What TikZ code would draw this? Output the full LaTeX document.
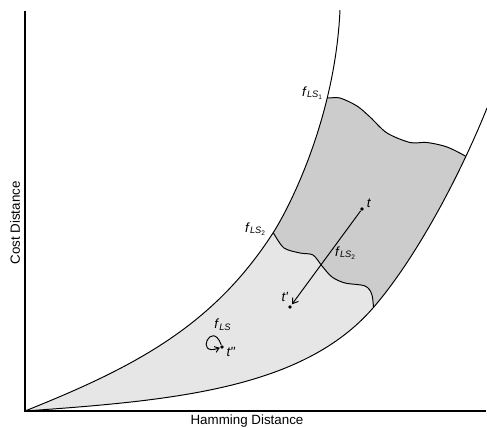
\documentclass[tikz,border=0pt]{standalone}
\usepackage{fontspec}
\setmainfont{Liberation Sans}
\usepackage{tikz}
\usetikzlibrary{arrows.meta,positioning}
\definecolor{PaleGray}{HTML}{E6E6E6}
\definecolor{MidGray}{HTML}{CCCCCC}
\newcommand{\fls}[1]{\textit{f}\textsubscript{\textit{LS}\textsubscript{#1}}}
% the two bounding curves and the two level lines
\newcommand{\outerline}{(25,411) .. controls (135,367) and (213,326) .. (273,233)
  .. controls (288,209.75) and (335,120) .. (340,10)}
\newcommand{\innerline}{(25,411) .. controls (175,400.5) and (303,388.5) .. (373,308)
  .. controls (418,256) and (462,170.5) .. (487,108)}
\newcommand{\topwave}{plot[smooth] coordinates {(318,97) (328,98) (340,98) (357,106) (370,117) (387,133) (410,142.5) (427,142.5) (447,147) (467,157) (478,165)}}
\newcommand{\lowwave}{plot[smooth] coordinates {(270,227) (274,234) (284,248) (300,253) (313,255) (322,266) (332,277) (345,283) (365,286) (372,295) (374,316)}}
\tikzset{
  axis/.style={line width=0.7pt},
  curve/.style={line width=0.55pt},
  dot/.style={circle,fill=black,inner sep=0pt,minimum size=2.2pt},
  lbl/.style={inner sep=0pt,font=\fontsize{7.6}{9}\selectfont},
  flow/.style={-{Straight Barb[length=3pt,width=4pt]},line width=0.55pt,shorten >=0.6pt},
  loopflow/.style={-{Straight Barb[length=2.4pt,width=3.4pt]},line width=0.55pt}
}
\begin{document}
\begin{tikzpicture}[x=0.02cm,y=-0.02cm]
  \useasboundingbox (0,0) rectangle (487,428);
  % shaded regions between the curves
  \begin{scope}
    \clip \outerline -- (487,0) -- (487,428) -- (25,428) -- cycle;
    \clip \innerline -- (487,0) -- (0,0) -- (0,411) -- cycle;
    \fill[MidGray] \topwave -- (487,428) -- (0,428) -- (0,97) -- cycle;
    \fill[PaleGray] \lowwave -- (380,428) -- (0,428) -- (0,227) -- cycle;
    \draw[curve] \topwave;
    \draw[curve] \lowwave;
  \end{scope}
  \draw[curve] \outerline;
  \draw[curve] \innerline;

  % axes
  \coordinate (ytop) at (25,11);
  \coordinate (orig) at (25,411);
  \coordinate (xend) at (486,411);
  \draw[axis] (ytop) -- (orig) -- (xend);
  \node[lbl,rotate=90] (ylab) at (15,223) {Cost Distance};
  \node[lbl] (xlab) at (247,421) {Hamming Distance};

  % states and moves
  \node[dot] (t) at (362,209) {};
  \node[dot] (t1) at (290,307) {};
  \node[dot] (t2) at (222,347) {};
  \node[lbl] (tlab) at (369,203) {\textit{t}};
  \node[lbl] (t1lab) at (285,297) {\textit{t\textquotesingle}};
  \node[lbl] (t2lab) at (231,352) {\textit{t\textquotedbl}};
  \draw[flow] (t) -- (t1);
  \draw[loopflow] (t2) to[out=110,in=200,min distance=0.55cm] (t2);

  \node[lbl] (fone) at (313,93) {\fls{1}};
  \node[lbl] (ftwo) at (256,229) {\fls{2}};
  \node[lbl] (fmove) at (346,253) {\fls{2}};
  \node[lbl] (fstay) at (223,325) {\textit{f}\textsubscript{\textit{LS}}};
\end{tikzpicture}
\end{document}
